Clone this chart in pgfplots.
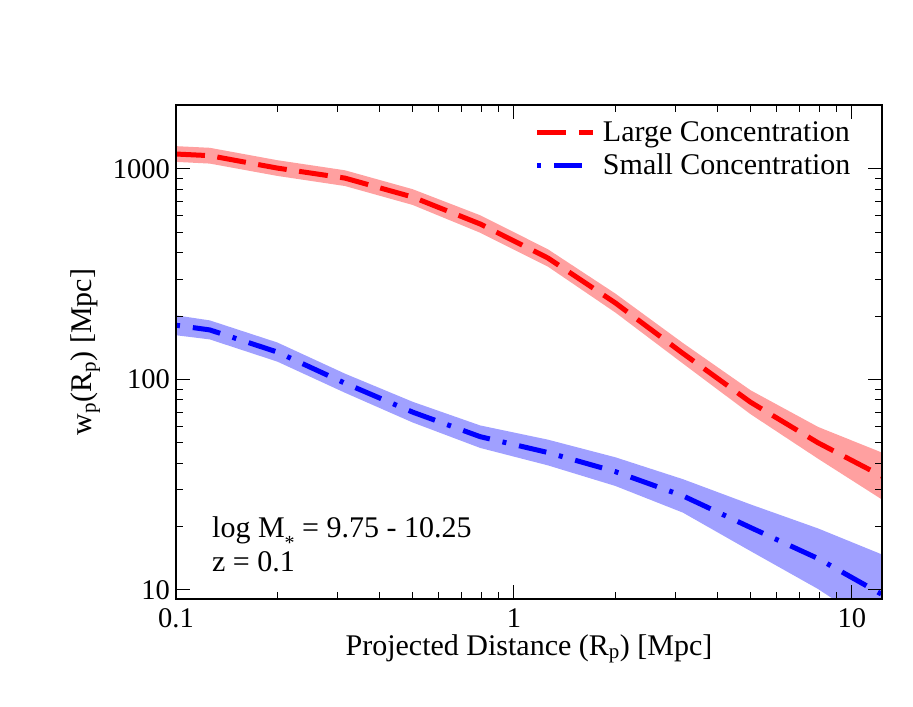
\documentclass[border=0pt]{standalone}
\usepackage{fontspec}
\setmainfont{Liberation Serif}
\usepackage{pgfplots}
\pgfplotsset{compat=1.18}
\definecolor{bandred}{RGB}{255,160,160}
\definecolor{bandblue}{RGB}{160,160,255}
\definecolor{linered}{RGB}{255,0,0}
\definecolor{lineblue}{RGB}{0,0,255}
\newcommand{\bigfont}{\fontsize{30}{36}\selectfont}
\newcommand{\tickfont}{\fontsize{28.5}{34}\selectfont}

\begin{document}
\begin{tikzpicture}
\begin{axis}[
  scale only axis, width=706pt, height=494pt,
  xmode=log, ymode=log,
  xmin=0.1, xmax=12.27, ymin=9.06, ymax=2014,
  xtick={0.1,1,10}, xticklabels={0.1,1,10},
  ytick={10,100,1000}, yticklabels={10,100,1000},
  minor xtick={0.2,0.3,0.4,0.5,0.6,0.7,0.8,0.9,2,3,4,5,6,7,8,9},
  minor ytick={20,30,40,50,60,70,80,90,200,300,400,500,600,700,800,900},
  tick align=inside, xtick pos=both, ytick pos=both,
  major tick length=14pt, minor tick length=7pt,
  tick style={black, line width=1pt},
  axis line style={line width=1.5pt},
  axis on top,
  xticklabel style={font=\tickfont, anchor=north, inner sep=0pt, yshift=-9pt},
  yticklabel style={font=\tickfont, anchor=east, inner sep=0pt, xshift=-6pt},
  xlabel={Projected Distance (R\textsubscript{p}) [Mpc]},
  ylabel={w\textsubscript{p}(R\textsubscript{p}) [Mpc]},
  xlabel style={font=\bigfont, at={(axis description cs:0.5,-0.1134)}, anchor=base, inner sep=0pt},
  ylabel style={font=\bigfont, at={(axis description cs:-0.119,0.5)}, anchor=base, inner sep=0pt},
  legend style={draw=none, fill=none, at={(axis description cs:0.5085,0.9664)}, anchor=north west,
    inner sep=0pt, outer sep=0pt, row sep=10.7pt, column sep=7pt, font=\bigfont,
    nodes={inner sep=0pt, anchor=base west}},
  legend cell align=left,
  legend image code/.code={\draw[#1] (0pt,8.5pt) -- (56pt,8.5pt);},
]
% bands
\addplot[fill=bandred, draw=none, forget plot] coordinates {
(0.1,1284) (0.1259,1261) (0.1995,1101) (0.3162,986) (0.5012,802) (0.7943,603)
(1.2589,416) (1.9953,256) (3.1623,149) (5.0119,88.9) (7.9433,59.5) (12.59,44.2)
(12.59,26.2) (7.9433,42.0) (5.0119,68.4) (3.1623,119) (1.9953,208) (1.2589,344)
(0.7943,498) (0.5012,675) (0.3162,830) (0.1995,927) (0.1259,1061) (0.1,1081)
};
\addplot[fill=bandblue, draw=none, forget plot] coordinates {
(0.1,201.8) (0.1259,190.9) (0.1995,149.9) (0.3162,106.6) (0.5012,78.4) (0.7943,60.5)
(1.2589,51.8) (1.9953,42.7) (3.1623,33.6) (5.0119,25.5) (7.9433,19.6) (12.59,14.5)
(12.59,6.2) (7.9433,10.1) (5.0119,15.3) (3.1623,23.3) (1.9953,31.2) (1.2589,39.1)
(0.7943,47.3) (0.5012,62.5) (0.3162,86.5) (0.1995,121.6) (0.1259,155.0) (0.1,162.3)
};
% lines
\addplot[linered, line width=5pt, dash pattern=on 29pt off 12.5pt] coordinates {
(0.1,1178) (0.1259,1157) (0.1995,1010) (0.3162,905) (0.5012,736) (0.7943,548)
(1.2589,378) (1.9953,231) (3.1623,133) (5.0119,78) (7.9433,50) (12.59,34)
};
\addlegendentry{Large Concentration}
\addplot[lineblue, line width=5pt, dash pattern=on 4pt off 13pt on 28pt off 13pt] coordinates {
(0.1,181) (0.1259,172) (0.1995,135) (0.3162,96) (0.5012,70) (0.7943,53.5)
(1.2589,45) (1.9953,36.5) (3.1623,28) (5.0119,19.8) (7.9433,14.1) (12.59,9.3)
};
\addlegendentry{Small Concentration}
\node[anchor=base west, inner sep=0pt, font=\bigfont] at (axis description cs:0.051,0.1255)
  {log M\smash{\raisebox{-12.5pt}{\fontsize{20}{20}\selectfont *}} = 9.75 - 10.25};
\node[anchor=base west, inner sep=0pt, font=\bigfont] at (axis description cs:0.051,0.0547)
  {z = 0.1};
\end{axis}
\path ([shift={(-176pt,-107pt)}]current axis.south west) rectangle ([shift={(31pt,105pt)}]current axis.north east);
\end{tikzpicture}
\end{document}
